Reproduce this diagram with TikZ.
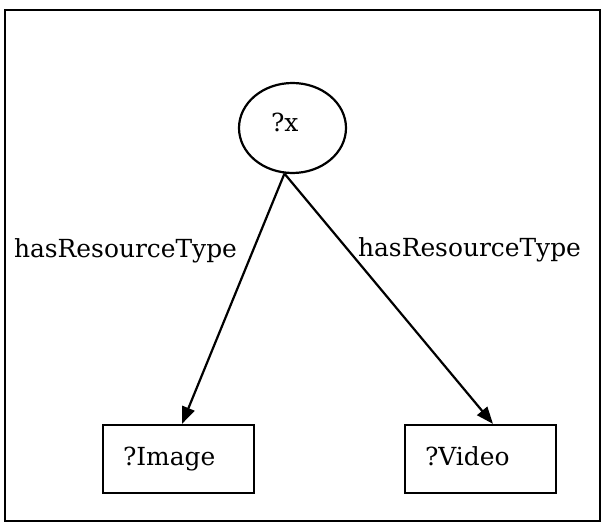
\documentclass[tikz,border=0pt]{standalone}
\usepackage{fontspec}
\setmainfont{DejaVu Serif}
\usetikzlibrary{arrows.meta,shapes.geometric,calc}
\begin{document}
\begin{tikzpicture}[x=1pt,y=1pt,
  line width=2.2pt,
  every node/.style={font=\fontsize{24.9}{30}\selectfont, inner sep=0pt},
  oval/.style={draw, ellipse, minimum width=107, minimum height=90},
  resbox/.style={draw, rectangle, minimum width=151, minimum height=68,
    text width=111, align=left, text height=18, text depth=6},
  txt/.style={anchor=base west},
  link/.style={-{Triangle[length=17pt,width=13pt]}}]
\useasboundingbox (0,0) rectangle (603,-524);
\fill[white] (0,0) rectangle (603,-524);
% outer frame
\draw (5,-10) rectangle (600,-521);
% query variable
\node[oval] (x) at (292.5,-128) {};
\node[txt] (xtext) at (270,-132) {?x};
% resource types
\node[resbox] (img) at (178.5,-459) {?Image};
\node[resbox] (vid) at (480.5,-459) {?Video};
% relations
\draw[link] (x.260) -- ($(img.north)+(3.5,0)$);
\draw[link] (x.260) -- ($(vid.north)+(12.5,0)$);
\node[txt] (relA) at (13,-258) {hasResourceType};
\node[txt] (relB) at (357,-256) {hasResourceType};
\end{tikzpicture}
\end{document}
